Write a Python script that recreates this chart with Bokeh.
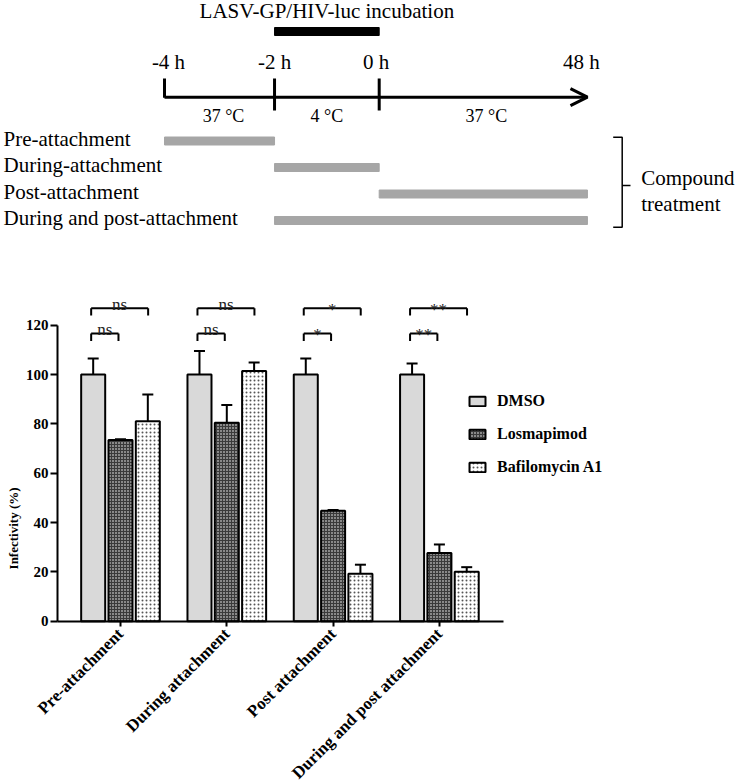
import math
from bokeh.plotting import figure
from bokeh.models import (ColumnDataSource, Range1d, Whisker, TeeHead, Label,
                          Legend, LegendItem, Arrow, OpenHead, FixedTicker)
from bokeh.layouts import column
from bokeh.transform import dodge
from bokeh.core.properties import value
from bokeh.embed import file_html
from bokeh.resources import INLINE

# ---------------- data ----------------
time_labels = ["-4 h", "-2 h", "0 h", "48 h"]
time_hours = [-4, -2, 0, 48]
temperatures = ["37 \u00b0C", "4 \u00b0C", "37 \u00b0C"]
incubation_title = "LASV-GP/HIV-luc incubation"
incubation_window = [-2, 0]
treat_names = ["Pre-attachment", "During-attachment", "Post-attachment", "During and post-attachment"]
treat_start = [-4, -2, 0, -2]
treat_end = [-2, 0, 48, 48]

groups = ["Pre-attachment", "During attachment", "Post attachment", "During and post attachment"]
series = ["DMSO", "Losmapimod", "Bafilomycin A1"]
dmso = [100, 100, 100, 100]
dmso_sd = [6.5, 9.5, 6.5, 4.5]
losmapimod = [73.5, 80.4, 44.8, 27.6]
losmapimod_sd = [0.3, 7.2, 0.3, 3.5]
bafilomycin = [81.0, 101.4, 19.2, 20.0]
bafilomycin_sd = [10.9, 3.5, 3.7, 1.9]
sig_los = ["ns", "ns", "*", "**"]
sig_baf = ["ns", "ns", "*", "**"]
y_ticks = [0, 20, 40, 60, 80, 100, 120]

SERIF = value("Liberation Serif")
W = 737

def no_align(p):
    try:
        p.frame_align = False
    except Exception:
        pass

# ---------------- top schematic ----------------
H1 = 258
UNIT = 107.35            # px per timeline step
X0 = 164                 # px of the -4 h mark
xs = -X0 / UNIT
xe = xs + W / UNIT
tick_pos = [0.0, 1.025, 2.0, 3.94]   # drawn position of each time point (broken time axis)
pos = dict(zip(time_hours, tick_pos))

def fx(px):
    return xs + px / UNIT

p1 = figure(width=W, height=H1, x_range=Range1d(xs, xe), y_range=Range1d(H1, 0),
            x_axis_type=None, y_axis_type=None, min_border=0, toolbar_location=None,
            output_backend="svg", outline_line_color=None)
no_align(p1)
p1.xgrid.visible = False
p1.ygrid.visible = False

p1.hbar(y=31, left=pos[incubation_window[0]], right=pos[incubation_window[1]], height=8,
        color="black")
p1.text(x=[(pos[incubation_window[0]] + pos[incubation_window[1]]) / 2], y=[10],
        text=[incubation_title], text_font=SERIF, text_font_size="21px",
        text_align="center", text_baseline="middle", text_color="black")

TL_Y = 96.7
p1.add_layout(Arrow(end=OpenHead(size=17, line_width=3, line_color="black"),
                    x_start=pos[-4], y_start=TL_Y, x_end=pos[48], y_end=TL_Y,
                    line_width=3, line_color="black"))
tick_hours = [-4, -2, 0]
p1.segment(x0=[pos[h] for h in tick_hours], x1=[pos[h] for h in tick_hours],
           y0=[78, 78, 78], y1=[TL_Y + 0.5, 110, 110], line_width=3, line_color="black")
p1.text(x=[pos[h] for h in time_hours], y=[61] * 4, x_offset=[4, 0, -3, -6],
        text=time_labels, text_font=SERIF, text_font_size="21px",
        text_align="center", text_baseline="middle", text_color="black")
mids = [(tick_pos[i] + tick_pos[i + 1]) / 2 for i in range(3)]
p1.text(x=mids, y=[115.5] * 3, x_offset=[4, 0, 3], text=temperatures, text_font=SERIF,
        text_font_size="18px", text_align="center", text_baseline="middle", text_color="black")

ROW0, ROWSTEP = 138, 26.5
rows = [ROW0 + i * ROWSTEP for i in range(len(treat_names))]
p1.text(x=[fx(3)] * 4, y=rows, text=treat_names, text_font=SERIF, text_font_size="21px",
        text_align="left", text_baseline="middle", text_color="black")
p1.hbar(y=[r + 2.5 for r in rows], left=[pos[s] for s in treat_start],
        right=[pos[e] for e in treat_end], height=8, color="#a6a6a6")

bx = fx(621.7)
p1.multi_line(xs=[[fx(612.7), bx, bx, fx(612.7)], [bx, fx(630)]],
              ys=[[136.7, 136.7, 226.7, 226.7], [185, 185]],
              line_width=1.5, line_color="black")
p1.text(x=[fx(640.7)] * 2, y=[177.5, 203.5], text=["Compound", "treatment"], text_font=SERIF,
        text_font_size="21px", text_align="left", text_baseline="middle", text_color="black")

# ---------------- bar chart ----------------
H2 = 784 - H1
GX = 106.3          # px per group
G0 = 120            # px of first group centre
PY = 2.467          # px per % unit
Y0 = 620.7 - H1     # px (from top of this figure) of 0 %
x_start = -G0 / GX
x_end = x_start + W / GX
y_start = -(H2 - Y0) / PY
y_end = Y0 / PY
x_axis_left = (57 - G0) / GX
x_axis_right = (503 - G0) / GX

idx = list(range(len(groups)))
src = ColumnDataSource(dict(
    xi=idx, groups=groups,
    dmso=dmso, dmso_hi=[v + s for v, s in zip(dmso, dmso_sd)], dmso_lo=[v - s for v, s in zip(dmso, dmso_sd)],
    los=losmapimod, los_hi=[v + s for v, s in zip(losmapimod, losmapimod_sd)],
    los_lo=[v - s for v, s in zip(losmapimod, losmapimod_sd)],
    baf=bafilomycin, baf_hi=[v + s for v, s in zip(bafilomycin, bafilomycin_sd)],
    baf_lo=[v - s for v, s in zip(bafilomycin, bafilomycin_sd)],
))

p2 = figure(x_range=Range1d(x_start, x_end), y_range=Range1d(y_start, y_end),
            width=W, height=H2, min_border=0, toolbar_location=None,
            output_backend="svg", outline_line_color=None)
no_align(p2)
p2.xgrid.visible = False
p2.ygrid.visible = False

OFF = 0.257
BW = 0.226
r_d = p2.vbar(x=dodge("xi", -OFF), top="dmso", width=BW, source=src,
              fill_color="#d9d9d9", line_color="black", line_width=2)
r_l = p2.vbar(x=dodge("xi", 0), top="los", width=BW, source=src,
              fill_color="#3a3a3a", hatch_pattern="dot", hatch_color="white", hatch_scale=3,
              hatch_weight=1.5, line_color="black", line_width=2)
r_b = p2.vbar(x=dodge("xi", OFF), top="baf", width=BW, source=src,
              fill_color="white", hatch_pattern="dot", hatch_color="#555555", hatch_scale=4,
              hatch_weight=1, line_color="black", line_width=2)

for off, hi, lo in [(-OFF, "dmso_hi", "dmso_lo"), (0, "los_hi", "los_lo"), (OFF, "baf_hi", "baf_lo")]:
    p2.add_layout(Whisker(source=src, base=dodge("xi", off), upper=hi, lower=lo,
                          line_width=2, line_color="black",
                          upper_head=TeeHead(size=11, line_width=2, line_color="black"),
                          lower_head=TeeHead(size=11, line_width=2, line_color="black")))

# significance brackets
Y_LO, Y_HI, DROP = 116.6, 126.9, 3.0
def dy(lbl):
    return 1.5 if lbl == "ns" else -0.4
sig_src = ColumnDataSource(dict(
    xi=idx, lab_los=sig_los, lab_baf=sig_baf,
    ty_los=[Y_LO + dy(s) for s in sig_los], ty_baf=[Y_HI + dy(s) for s in sig_baf],
))
xa = dodge("xi", -0.276)
xb = dodge("xi", -0.019)
xc = dodge("xi", 0.26)
kw = dict(source=sig_src, line_width=2, line_color="black")
p2.segment(x0=xa, x1=xb, y0=Y_LO, y1=Y_LO, **kw)
p2.segment(x0=xa, x1=xa, y0=Y_LO, y1=Y_LO - DROP, **kw)
p2.segment(x0=xb, x1=xb, y0=Y_LO, y1=Y_LO - DROP, **kw)
p2.segment(x0=xa, x1=xc, y0=Y_HI, y1=Y_HI, **kw)
p2.segment(x0=xa, x1=xa, y0=Y_HI, y1=Y_HI - DROP, **kw)
p2.segment(x0=xc, x1=xc, y0=Y_HI, y1=Y_HI - DROP, **kw)
p2.text(x=dodge("xi", -0.1475), y="ty_los", text="lab_los", source=sig_src,
        text_font=SERIF, text_font_size="17px", text_align="center", text_baseline="alphabetic",
        text_color="#222222")
p2.text(x=dodge("xi", -0.008), y="ty_baf", text="lab_baf", source=sig_src,
        text_font=SERIF, text_font_size="17px", text_align="center", text_baseline="alphabetic",
        text_color="#222222")

# axes drawn at fixed data locations inside the full-size frame
xax = p2.xaxis[0]
yax = p2.yaxis[0]
for ax in (xax, yax):
    ax.axis_line_width = 2
    ax.axis_line_color = "black"
    ax.major_tick_line_width = 2
    ax.major_tick_line_color = "black"
    ax.major_tick_in = 0
    ax.minor_tick_line_color = None
    ax.major_label_text_font = "Liberation Serif"
    ax.major_label_text_font_style = "bold"
    ax.major_label_text_color = "black"
yax.ticker = FixedTicker(ticks=y_ticks)
yax.bounds = (0, 120)
yax.fixed_location = x_axis_left
yax.major_tick_out = 7
yax.major_label_standoff = 2
yax.major_label_text_font_size = "15px"
xax.ticker = FixedTicker(ticks=idx)
xax.major_label_overrides = {i: g for i, g in zip(idx, groups)}
xax.bounds = (x_axis_left, x_axis_right)
xax.fixed_location = 0
xax.major_tick_out = 5
xax.major_label_standoff = 5
xax.major_label_orientation = math.pi / 4
xax.major_label_text_font_size = "17px"

p2.add_layout(Label(x=13, y=37.6, x_units="screen", y_units="data", text="Infectivity (%)",
                    angle=math.pi / 2, text_align="center", text_baseline="middle",
                    text_font="Liberation Serif", text_font_style="bold", text_font_size="13px",
                    text_color="black"))

legend = Legend(items=[LegendItem(label=series[0], renderers=[r_d]),
                       LegendItem(label=series[1], renderers=[r_l]),
                       LegendItem(label=series[2], renderers=[r_b])],
                location=(467, H2 - (477 - H1)), glyph_width=20, glyph_height=12, label_standoff=10,
                spacing=13, padding=0, margin=0, border_line_color=None,
                background_fill_alpha=0, label_height=20,
                label_text_font="Liberation Serif", label_text_font_style="bold",
                label_text_font_size="16px", label_text_color="black")
p2.add_layout(legend)

layout = column(p1, p2, spacing=0)
open("out.html", "w").write(file_html(layout, INLINE))
